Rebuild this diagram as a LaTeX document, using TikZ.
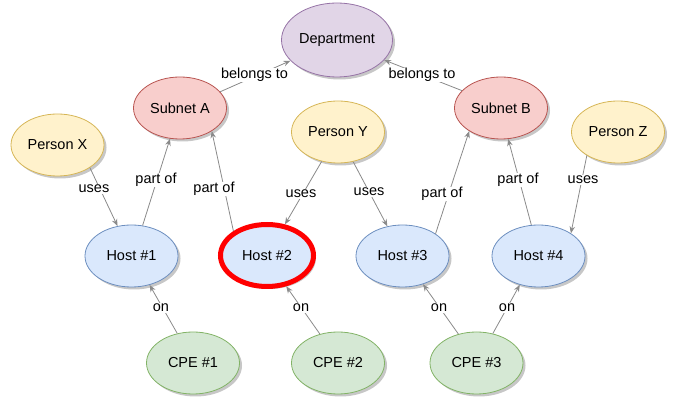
\documentclass[tikz,border=0pt]{standalone}
\usepackage{fontspec}
\setmainfont{Liberation Sans}
\usetikzlibrary{shapes.geometric,arrows.meta,shadows}
\definecolor{purF}{HTML}{E1D5E7}\definecolor{purD}{HTML}{9673A6}
\definecolor{redF}{HTML}{F8CECC}\definecolor{redD}{HTML}{B85450}
\definecolor{yelF}{HTML}{FFF2CC}\definecolor{yelD}{HTML}{D6B656}
\definecolor{bluF}{HTML}{DAE8FC}\definecolor{bluD}{HTML}{6C8EBF}
\definecolor{grnF}{HTML}{D5E8D4}\definecolor{grnD}{HTML}{82B366}
\definecolor{edgeC}{HTML}{8A8A8A}
\tikzset{
  ent/.style={ellipse, minimum width=93pt, minimum height=62pt, inner sep=0pt,
    line width=0.8pt, font=\fontsize{14.5}{16}\selectfont,
    drop shadow={shadow xshift=2.5pt, shadow yshift=-2.5pt, fill=black, opacity=0.22}},
  dept/.style={ent, fill=purF, draw=purD, minimum width=111pt, minimum height=74pt},
  subnet/.style={ent, fill=redF, draw=redD},
  person/.style={ent, fill=yelF, draw=yelD},
  host/.style={ent, fill=bluF, draw=bluD},
  cpe/.style={ent, fill=grnF, draw=grnD},
  hot/.style={draw=red, line width=5pt},
  rel/.style={draw=edgeC, line width=0.8pt, -{Stealth[length=7pt,width=5.5pt]}},
  lbl/.style={fill=white, inner sep=0.6pt, font=\fontsize{14.5}{16}\selectfont}
}
\begin{document}
\begin{tikzpicture}[x=1pt,y=-1pt]
\useasboundingbox (0,0) rectangle (678,403);
\node[dept] (dep) at (337,40) {Department};
\node[subnet] (sa) at (180,108) {Subnet A};
\node[subnet] (sb) at (501,108) {Subnet B};
\node[person] (px) at (57.5,145) {Person X};
\node[person] (py) at (338,132) {Person Y};
\node[person] (pz) at (618,132) {Person Z};
\node[host] (h1) at (131.5,256) {Host \#1};
\node[host,hot] (h2) at (267,255.5) {Host \#2};
\node[host] (h3) at (402.5,256) {Host \#3};
\node[host] (h4) at (538.5,256) {Host \#4};
\node[cpe] (c1) at (193,363) {CPE \#1};
\node[cpe] (c2) at (338,363) {CPE \#2};
\node[cpe] (c3) at (476.5,363) {CPE \#3};

\draw[rel] (sa.22) -- (dep.204);
\draw[rel] (sb.156) -- (dep.-23);
\draw[rel] (px.-35) -- (h1.115);
\draw[rel] (h1.70) -- (sa.-108);
\draw[rel] (h2.144) -- (sa.-36);
\draw[rel] (py.-119) -- (h2.60);
\draw[rel] (py.-63) -- (h3.117);
\draw[rel] (h3.34) -- (sb.216);
\draw[rel] (h4.103) -- (sb.-77);
\draw[rel] (pz.-143) -- (h4.35);
\draw[rel] (c1.118) -- (h1.-58);
\draw[rel] (c2.122) -- (h2.-58);
\draw[rel] (c3.122) -- (h3.-54);
\draw[rel] (c3.61) -- (h4.-123);

\node[lbl] (l1) at (254.5,75) {belongs to};
\node[lbl] (l2) at (422,75) {belongs to};
\node[lbl] (l3) at (94,189) {uses};
\node[lbl] (l4) at (156,180) {part of};
\node[lbl] (l5) at (214,189) {part of};
\node[lbl] (l6) at (301,194) {uses};
\node[lbl] (l7) at (369,192) {uses};
\node[lbl] (l8) at (442,194) {part of};
\node[lbl] (l9) at (518,180) {part of};
\node[lbl] (l10) at (583,180) {uses};
\node[lbl] (l11) at (161,308) {on};
\node[lbl] (l12) at (301,308) {on};
\node[lbl] (l13) at (439,308) {on};
\node[lbl] (l14) at (507,308) {on};
\end{tikzpicture}
\end{document}
